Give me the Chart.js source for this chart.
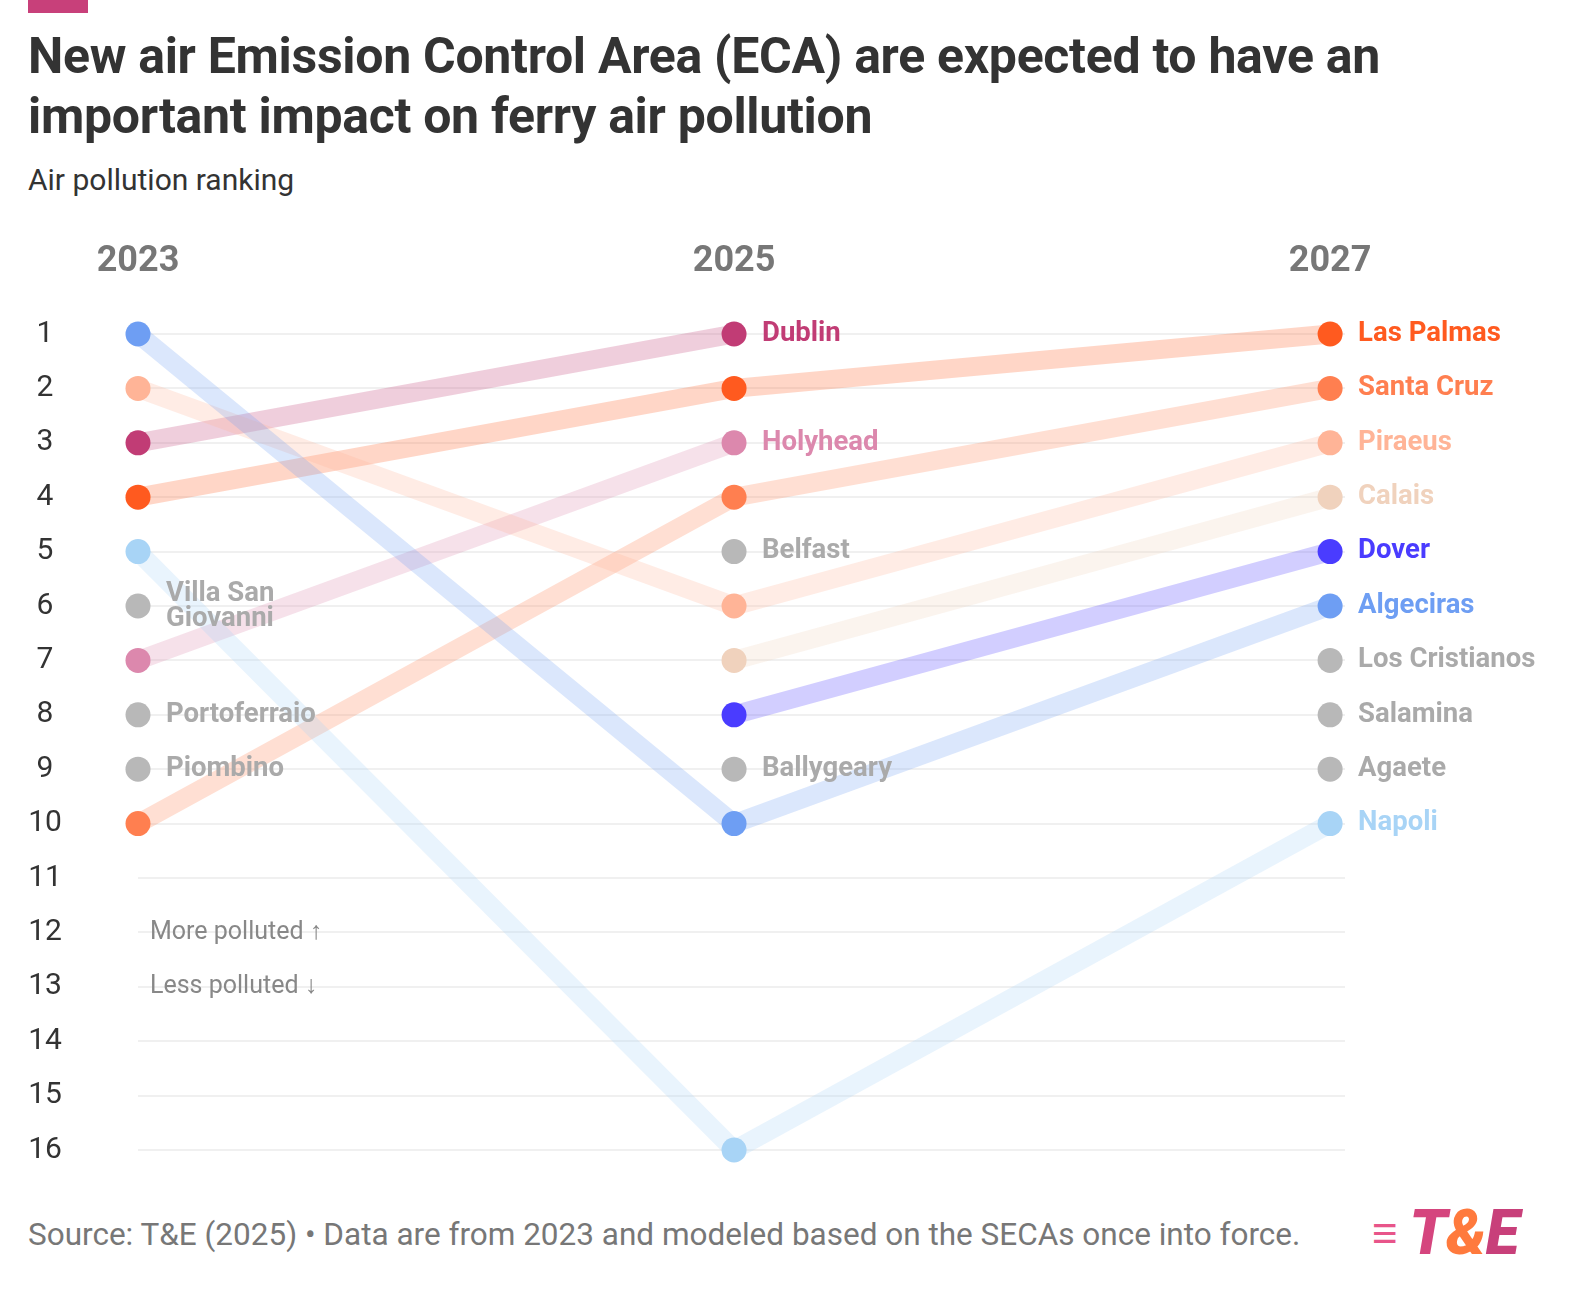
<!DOCTYPE html>
<html><head><meta charset="utf-8">
<script src="https://cdn.jsdelivr.net/npm/chart.js@4"></script>
<style>
html,body{margin:0;padding:0;background:#fff;font-family:Roboto,sans-serif;overflow:hidden;}
#wrap{position:relative;width:1588px;height:1306px;overflow:hidden}
canvas{position:absolute;left:0;top:0}
.t{position:absolute;left:28px;color:#333;white-space:nowrap}
</style></head><body><div id="wrap">
<div style="position:absolute;left:28px;top:0;width:60px;height:13px;background:#c8407a"></div>
<div class="t" style="top:26px;font-size:50px;font-weight:700;line-height:60px;letter-spacing:-0.3px">New air Emission Control Area (ECA) are expected to have an<br>important impact on ferry air pollution</div>
<div class="t" style="top:162px;font-size:30px">Air pollution ranking</div>
<div class="t" style="top:1216px;font-size:31.5px;color:#777">Source: T&amp;E (2025) • Data are from 2023 and modeled based on the SECAs once into force.</div>
<div style="position:absolute;left:1372px;top:1196px;font-size:62px;font-weight:900;font-style:italic;color:#ff7a3d;letter-spacing:-1px"><span style="color:#e8558a;font-size:44px;vertical-align:6px">≡</span> <span style="color:#d5457e">T</span>&amp;<span style="color:#c8407a">E</span></div>
<canvas id="c" width="1588" height="1306"></canvas>
</div>
<script>
const years=[2023,2025,2027];
const names=["Algeciras","Piraeus","Dublin","Las Palmas","Napoli","Holyhead","Santa Cruz","Calais","Dover","Villa San Giovanni","Portoferraio","Piombino","Belfast","Ballygeary","Los Cristianos","Salamina","Agaete"];
const ranks=[[1,10,6],[2,6,3],[3,1,null],[4,2,1],[5,16,10],[7,3,null],[10,4,2],[null,7,4],[null,8,5],[6,null,null],[8,null,null],[9,null,null],[null,5,null],[null,9,null],[null,null,7],[null,null,8],[null,null,9]];
const colors=["#6e9ef3","#ffb497","#c13c75","#ff5a1f","#a8d4f6","#dc88ad","#ff7f50","#f0d2bd","#4a3cff","#b8b8b8","#b8b8b8","#b8b8b8","#b8b8b8","#b8b8b8","#b8b8b8","#b8b8b8","#b8b8b8"];
const labelYearIdx=[2,2,1,2,2,1,2,2,2,0,0,0,1,1,2,2,2];
const rankTicks=[1,2,3,4,5,6,7,8,9,10,11,12,13,14,15,16];
function rgba(h,a){const n=parseInt(h.slice(1),16);return `rgba(${n>>16},${(n>>8)&255},${n&255},${a})`;}
const ds=[];
names.forEach((n,i)=>{const d=years.map((y,j)=>({x:y,y:ranks[i][j]})).filter(p=>p.y!==null);
 if(d.length>1) ds.push({data:d,borderColor:rgba(colors[i],0.25),borderWidth:19,pointRadius:0,borderCapStyle:'round',order:2});});
names.forEach((n,i)=>{const d=years.map((y,j)=>({x:y,y:ranks[i][j]})).filter(p=>p.y!==null);
 ds.push({data:d,showLine:false,pointRadius:12.5,pointBackgroundColor:colors[i],pointBorderWidth:0,order:1});});
const deco={id:'deco',afterDatasetsDraw(ch){const c=ch.ctx,xs=ch.scales.x,ys=ch.scales.y;c.save();
 c.font='30px Roboto';c.fillStyle='#333';c.textAlign='center';c.textBaseline='middle';
 rankTicks.forEach(r=>c.fillText(r,45,ys.getPixelForValue(r)));
 c.font='bold 36px Roboto';c.fillStyle='#777';
 years.forEach(y=>c.fillText(y,xs.getPixelForValue(y),262));
 c.textAlign='left';c.font='bold 27.5px Roboto';
 names.forEach((n,i)=>{const j=labelYearIdx[i],r=ranks[i][j];const x=xs.getPixelForValue(years[j])+28,y=ys.getPixelForValue(r);
  c.fillStyle=colors[i]==="#b8b8b8"?"#aaa":colors[i];
  if(n==="Villa San Giovanni"){c.fillText("Villa San",x,y-12);c.fillText("Giovanni",x,y+13);}else c.fillText(n,x,y);});
 c.font='25px Roboto';c.fillStyle='#888';
 c.fillText('More polluted ↑',150,ys.getPixelForValue(12));c.fillText('Less polluted ↓',150,ys.getPixelForValue(13));
 c.restore();}};
new Chart(document.getElementById('c'),{type:'line',data:{datasets:ds},plugins:[deco],
 options:{responsive:false,animation:false,clip:false,layout:{padding:{left:138,top:334,right:243,bottom:156}},
 plugins:{legend:{display:false},tooltip:{enabled:false}},
 scales:{x:{type:'linear',min:2023,max:2027.05,display:false},
 y:{reverse:true,min:1,max:16,ticks:{display:false,stepSize:1},border:{display:false},grid:{color:'#f0f0f0',lineWidth:2,drawTicks:false},afterFit(s){s.width=0;}}}}});
</script></body></html>
